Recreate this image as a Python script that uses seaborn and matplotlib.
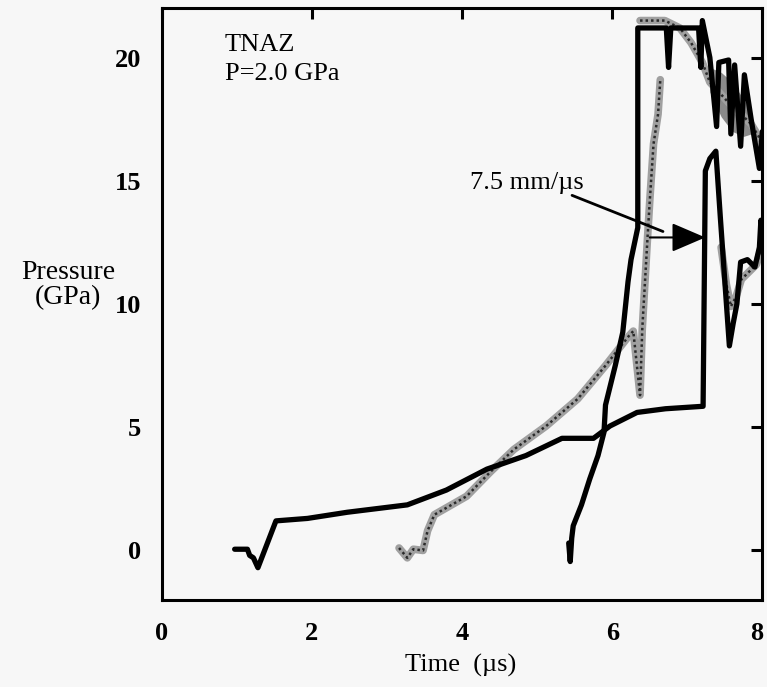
import numpy as np
import pandas as pd
import seaborn as sns
import matplotlib.pyplot as plt
from matplotlib.transforms import ScaledTranslation

# traces (time in us, pressure in GPa)
a_time = [0.97, 1.14, 1.17, 1.22, 1.28, 1.52, 1.94, 2.47, 3.27, 3.79, 4.33, 4.85, 5.33, 5.75, 5.97, 6.33, 6.71,
          7.21, 7.24, 7.30, 7.38, 7.44, 7.56, 7.61, 7.66, 7.71, 7.80, 7.90, 7.96, 7.98, 8.0]
a_press = [0.05, 0.05, -0.2, -0.3, -0.7, 1.2, 1.3, 1.55, 1.85, 2.45, 3.3, 3.85, 4.55, 4.55, 5.05, 5.6, 5.75,
           5.85, 15.4, 15.9, 16.2, 13.5, 8.3, 9.2, 10.0, 11.7, 11.8, 11.5, 12.3, 13.4, 13.0]

b_time = [5.42, 5.44, 5.46, 5.48, 5.59, 5.70, 5.81, 5.89, 5.91, 6.04, 6.14, 6.21, 6.25, 6.34, 6.34, 6.72, 6.75, 6.78,
          7.15, 7.18, 7.20, 7.30, 7.39, 7.42, 7.55, 7.58, 7.63, 7.71, 7.76, 7.85, 7.96, 8.0]
b_press = [0.3, -0.45, 0.5, 1.0, 1.85, 2.9, 3.85, 4.8, 5.9, 7.5, 8.85, 10.9, 11.8, 13.1, 21.2, 21.2, 19.6, 21.2,
           21.2, 19.6, 21.5, 20.0, 17.2, 19.8, 19.9, 16.9, 19.7, 16.4, 19.3, 17.5, 15.5, 17.0]

c_time = [3.16, 3.27, 3.35, 3.48, 3.54, 3.63, 4.06, 4.38, 4.69, 5.12, 5.54, 5.91, 6.22, 6.28, 6.37, 6.40, 6.47,
          6.50, 6.55, 6.61, 6.64]
c_press = [0.1, -0.3, 0.05, 0.0, 0.8, 1.45, 2.2, 3.2, 4.1, 5.05, 6.15, 7.5, 8.7, 8.9, 6.3, 9.0, 12.7,
           14.2, 16.5, 17.7, 19.1]

d_time = [6.37, 6.70, 6.90, 7.05, 7.20, 7.30, 7.45, 7.60, 7.75, 7.85, 7.95, 8.0]
d_press = [21.5, 21.5, 21.2, 20.6, 19.8, 19.0, 18.5, 18.0, 17.6, 17.3, 16.8, 16.3]

band_time = [7.30, 7.45, 7.60, 7.75, 7.85]
band_lo = [18.6, 17.6, 17.0, 16.8, 16.9]
band_hi = [19.6, 19.4, 19.0, 18.3, 17.8]

e_time = [7.45, 7.52, 7.58, 7.65, 7.72, 7.82, 7.92, 8.0]
e_press = [12.3, 10.8, 9.9, 10.3, 11.0, 11.3, 11.6, 12.4]

x_ticks = [0, 2, 4, 6, 8]
y_ticks = [0, 5, 10, 15, 20]

sns.set_style('white')
plt.rcParams['font.family'] = ['Liberation Serif', 'DejaVu Serif']
plt.rcParams['text.color'] = 'black'
bg = '#f7f7f7'

fig = plt.figure(figsize=(7.67, 6.87), dpi=100, facecolor=bg)
ax = fig.add_axes([0.211, 0.127, 0.783, 0.861])
ax.set_facecolor(bg)

# the hatched traces: a light gray line with a dark dotted texture on top
gray = '#a0a0a0'
ax.fill_between(band_time, band_lo, band_hi, color='#8a8a8a', lw=0)
for t, p in [(c_time, c_press), (d_time, d_press), (e_time, e_press)]:
    df = pd.DataFrame({'t': t, 'p': p})
    sns.lineplot(data=df, x='t', y='p', sort=False, estimator=None, color=gray, lw=5.5, ax=ax)
    sns.lineplot(data=df, x='t', y='p', sort=False, estimator=None, color='#2a2a2a', lw=1.8,
                 dashes=False, ax=ax, linestyle=(0, (1, 1.2)))
for t, p in [(a_time, a_press), (b_time, b_press)]:
    df = pd.DataFrame({'t': t, 'p': p})
    sns.lineplot(data=df, x='t', y='p', sort=False, estimator=None, color='black', lw=3.8, ax=ax)

ax.set_xlim(0, 8)
ax.set_ylim(-2, 22)
ax.set_xticks(x_ticks)
ax.set_yticks(y_ticks)
ax.set_xlabel('')
ax.set_ylabel('')
ax.tick_params(direction='in', length=8, width=2.2, top=True, right=True, labelsize=19, colors='black')
ax.tick_params(axis='x', pad=16)
ax.tick_params(axis='y', pad=15)
for lab in ax.get_xticklabels() + ax.get_yticklabels():
    lab.set_fontweight('bold')
# last x label sits right on the figure edge: nudge it left a little
last = ax.get_xticklabels()[-1]
last.set_transform(last.get_transform() + ScaledTranslation(-6 / 100, 0, fig.dpi_scale_trans))
for s in ax.spines.values():
    s.set_linewidth(2.2)
    s.set_color('black')

ax.text(0.84, 20.5, 'TNAZ', fontsize=19, va='center', color='black')
ax.text(0.84, 19.35, 'P=2.0 GPa', fontsize=19, va='center', color='black')
ax.text(4.1, 14.9, '7.5 mm/\u00b5s', fontsize=19, va='center', color='black')
ax.annotate('', xy=(6.71, 12.9), xytext=(5.43, 14.45),
            arrowprops=dict(arrowstyle='-', color='black', lw=2))
ax.annotate('', xy=(7.24, 12.7), xytext=(6.5, 12.7),
            arrowprops=dict(arrowstyle='-|>,head_length=1.4,head_width=0.6', mutation_scale=15,
                            color='black', lw=1.5, shrinkA=0, shrinkB=0))

fig.text(0.089, 0.585, 'Pressure\n(GPa)', fontsize=20, ha='center', va='center', linespacing=1.0, color='black')
fig.text(0.601, 0.032, 'Time  (\u00b5s)', fontsize=19, ha='center', va='center', color='black')

fig.savefig('out.png', dpi=100, facecolor=bg)
